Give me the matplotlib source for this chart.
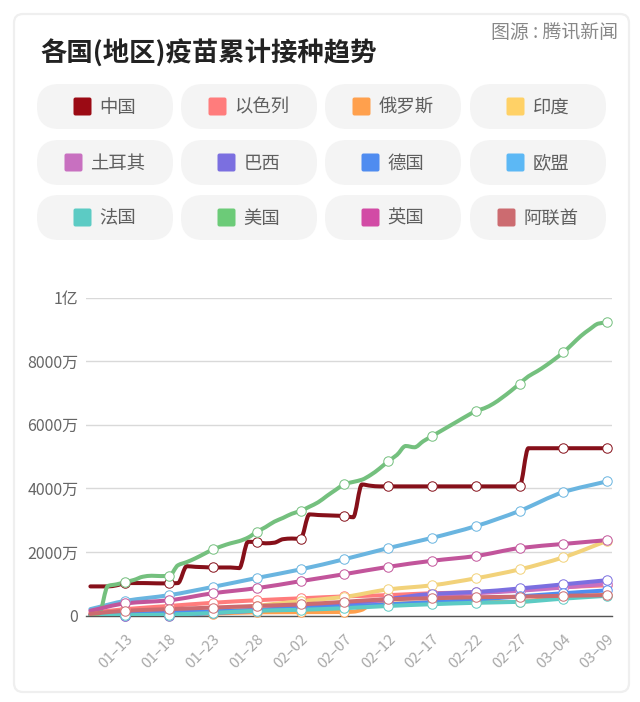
import matplotlib
matplotlib.use("Agg")
import matplotlib.pyplot as plt
from matplotlib.patches import FancyBboxPatch, PathPatch
from matplotlib.path import Path
from matplotlib.transforms import ScaledTranslation

plt.rcParams['font.family'] = ['Noto Sans CJK SC', 'DejaVu Sans']

title = "各国(地区)疫苗累计接种趋势"
source = "图源 : 腾讯新闻"

names = ["中国", "以色列", "俄罗斯", "印度", "土耳其", "巴西", "德国", "欧盟", "法国", "美国", "英国", "阿联酋"]
colors = ["#9b0a14", "#ff7c7c", "#ffa04d", "#ffd166", "#c870c0", "#7b6fe0",
          "#4f8cf0", "#5cb8f5", "#5ccbc4", "#6ccb78", "#d24ba5", "#cc6b70"]
line_colors = {"中国": "#86101a", "欧盟": "#6ab5e0", "英国": "#c2559b", "美国": "#74c07e", "印度": "#f2d27a"}

# day number counted from 01-09
tick_days = [4, 9, 14, 19, 24, 29, 34, 39, 44, 49, 54, 59]
tick_labels = ["01–13", "01–18", "01–23", "01–28", "02–02", "02–07",
               "02–12", "02–17", "02–22", "02–27", "03–04", "03–09"]
y_ticks = [0, 2000, 4000, 6000, 8000, 10000]
y_labels = ["0", "2000万", "4000万", "6000万", "8000万", "1亿"]

# values in 万
all_days = list(range(60))
five_days = [0] + tick_days
china = [915, 915, 915, 950, 1020, 1020, 1020, 1015, 1010, 1010,
         1020, 1550, 1530, 1520, 1510, 1510, 1510, 1490, 2320, 2300,
         2270, 2290, 2400, 2420, 2410, 3180, 3160, 3150, 3140, 3130,
         3090, 4120, 4080, 4060, 4060, 4060, 4060, 4060, 4060, 4060,
         4060, 4060, 4060, 4060, 4060, 4060, 4060, 4060, 4060, 4060,
         5260, 5260, 5260, 5260, 5260, 5260, 5260, 5260, 5260, 5260]
usa = [0, 60, 930, 980, 1050, 1120, 1220, 1250, 1240, 1245,
       1580, 1680, 1800, 1940, 2077, 2180, 2270, 2340, 2450, 2630,
       2780, 2950, 3070, 3200, 3290, 3420, 3560, 3760, 3950, 4130,
       4200, 4270, 4420, 4620, 4850, 5050, 5330, 5290, 5480, 5640,
       5800, 5960, 6120, 6280, 6425, 6520, 6660, 6850, 7060, 7290,
       7520, 7680, 7860, 8060, 8275, 8530, 8790, 9000, 9180, 9220]
israel = [80, 200, 300, 400, 480, 540, 600, 640, 700, 730, 800, 890, 950]
russia_days = [0, 4, 9, 14, 19, 24, 29, 30, 31, 32, 34, 39, 44, 49, 52, 54, 59]
russia = [0, 10, 30, 60, 100, 105, 110, 120, 180, 340, 370, 400, 420, 430, 520, 570, 650]
india = [0, 0, 0, 100, 300, 450, 585, 820, 950, 1170, 1450, 1830, 2350]
turkey = [0, 0, 100, 120, 180, 250, 350, 500, 620, 700, 780, 880, 1000]
brazil = [0, 0, 0, 80, 150, 280, 380, 520, 680, 740, 850, 980, 1110]
germany = [10, 50, 90, 130, 170, 220, 280, 350, 420, 500, 600, 700, 790]
eu = [200, 460, 640, 900, 1180, 1450, 1770, 2120, 2440, 2810, 3290, 3880, 4220]
france = [0, 10, 30, 80, 150, 180, 230, 300, 355, 400, 430, 530, 620]
uk = [150, 380, 480, 700, 860, 1080, 1300, 1530, 1720, 1870, 2120, 2250, 2370]
uae = [50, 150, 200, 250, 300, 350, 430, 510, 540, 575, 590, 620, 640]

series = [
    (all_days, china), (five_days, israel), (russia_days, russia), (five_days, india),
    (five_days, turkey), (five_days, brazil), (five_days, germany), (five_days, eu),
    (five_days, france), (all_days, usa), (five_days, uk), (five_days, uae),
]


def smooth_path(xs, ys):
    # bezier segments through the points, no overshoot on flat parts
    slopes = [(ys[i + 1] - ys[i]) / (xs[i + 1] - xs[i]) for i in range(len(xs) - 1)]
    tang = [slopes[0]]
    for a, b in zip(slopes[:-1], slopes[1:]):
        tang.append(0 if a * b <= 0 else 2 * a * b / (a + b))
    tang.append(slopes[-1])
    verts = [(xs[0], ys[0])]
    codes = [Path.MOVETO]
    for i in range(len(xs) - 1):
        h = (xs[i + 1] - xs[i]) / 3
        verts += [(xs[i] + h, ys[i] + tang[i] * h),
                  (xs[i + 1] - h, ys[i + 1] - tang[i + 1] * h),
                  (xs[i + 1], ys[i + 1])]
        codes += [Path.CURVE4] * 3
    return Path(verts, codes)


W, H = 640, 702
fig = plt.figure(figsize=(W / 100, H / 100), dpi=100, facecolor="white")

# card, title and legend pills, in pixels
bg = fig.add_axes([0, 0, 1, 1], zorder=0)
bg.set_xlim(0, W)
bg.set_ylim(H, 0)
bg.axis("off")
bg.add_patch(FancyBboxPatch((14, 14), 615, 678, boxstyle="round,pad=0,rounding_size=9",
                            fc="white", ec="#efefef", lw=1.6))
bg.text(40, 54, title, fontsize=19, fontweight="bold", color="#222222", ha="left", va="center")
bg.text(618, 32, source, fontsize=13.6, color="#888888", ha="right", va="center")

pill_x = [37, 181, 325, 470]
pill_y = [84, 140, 195]
for i, name in enumerate(names):
    px = pill_x[i % 4]
    py = pill_y[i // 4]
    bg.add_patch(FancyBboxPatch((px, py), 136, 45, boxstyle="round,pad=0,rounding_size=22",
                                fc="#f4f4f4", ec="none"))
    left = px + 68 - (18 + 9 + 18 * len(name)) / 2
    bg.add_patch(FancyBboxPatch((left, py + 13.5), 18, 18, boxstyle="round,pad=0,rounding_size=2",
                                fc=colors[i], ec="none"))
    bg.text(left + 26, py + 23.5, name, fontsize=13.2, color="#5f5f5f", ha="left", va="center")

# plot area: pixels 86-612 across, 297.5-615.5 down
ax = fig.add_axes([86 / W, 1 - 615.5 / H, 526 / W, 318 / H], zorder=1)
ax.patch.set_alpha(0)
ax.set_xlim(-0.5, 59.55)
ax.set_ylim(0, 10000)
for side in ["top", "right", "left"]:
    ax.spines[side].set_visible(False)
ax.spines["bottom"].set_color("#555555")
ax.spines["bottom"].set_linewidth(1)
ax.set_yticks(y_ticks)
ax.set_yticklabels(y_labels, fontsize=11.5, color="#666666")
ax.set_xticks(tick_days)
ax.set_xticklabels(tick_labels, fontsize=10.8, color="#a8a8a8", rotation=45, ha="right",
                   va="top", rotation_mode="anchor")
shift = ScaledTranslation(-6 / 100, 0, fig.dpi_scale_trans)
for lab in ax.get_xticklabels():
    lab.set_transform(lab.get_transform() + shift)
ax.tick_params(axis="both", length=0)
ax.tick_params(axis="x", pad=12)
ax.tick_params(axis="y", pad=5.5)
ax.grid(axis="y", color="#d9d9d9", lw=1)
ax.set_axisbelow(True)

for i, (days, vals) in enumerate(series):
    c = line_colors.get(names[i], colors[i])
    ax.add_patch(PathPatch(smooth_path(days, vals), fill=False, ec=c, lw=2.9,
                           capstyle="round", joinstyle="round", zorder=3 + i * 0.01))
for i, (days, vals) in enumerate(series):
    c = line_colors.get(names[i], colors[i])
    lookup = dict(zip(days, vals))
    ax.plot(tick_days, [lookup[d] for d in tick_days], "o", ms=6.8, mfc="white", mec=c, mew=0.7,
            clip_on=False, zorder=5 + i * 0.01)

fig.savefig("out.png", dpi=100)
